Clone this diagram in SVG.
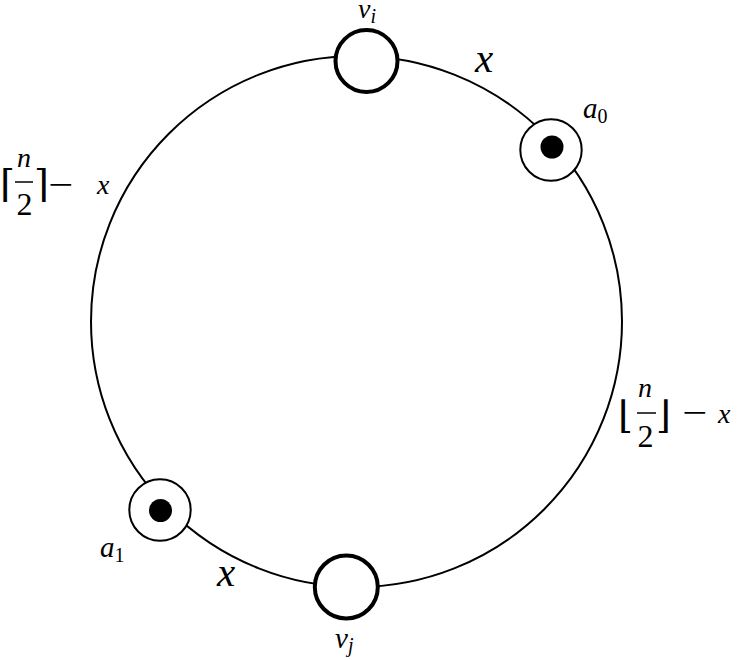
<svg xmlns="http://www.w3.org/2000/svg" width="738" height="660" viewBox="0 0 738 660">
<style>
.ring{fill:none;stroke:#000;stroke-width:2}
.vnode{fill:#fff;stroke:#000;stroke-width:4}
.anode{fill:#fff;stroke:#000;stroke-width:2}
.dot{fill:#000}
.bar{stroke:#000;stroke-width:1.5}
.m{font-family:'Liberation Serif','DejaVu Serif',serif;font-style:italic;fill:#000}
.r{font-family:'Liberation Serif','DejaVu Serif',serif;font-style:normal;fill:#000}
.br{font-family:'DejaVu Serif','DejaVu Sans',serif;font-style:normal;fill:#000}
</style>
<rect width="738" height="660" fill="#fff"/>
<g id="connectors">
<circle class="ring" cx="356.5" cy="321.5" r="265.5"/>
</g>
<g id="node-vi">
<circle class="vnode" cx="366.5" cy="61" r="31"/>
<text class="m" x="358" y="18" font-size="28">v<tspan font-size="20" dy="5">i</tspan></text>
</g>
<g id="node-a0">
<circle class="anode" cx="551" cy="150" r="30.7"/>
<circle class="dot" cx="552" cy="147" r="11.5"/>
<text class="m" x="583" y="118" font-size="29">a<tspan class="r" font-size="20" dy="5">0</tspan></text>
</g>
<g id="node-a1">
<circle class="anode" cx="160" cy="510" r="30.7"/>
<circle class="dot" cx="160.5" cy="510.5" r="11.5"/>
<text class="m" x="100" y="557" font-size="29">a<tspan class="r" font-size="20" dy="5">1</tspan></text>
</g>
<g id="node-vj">
<circle class="vnode" cx="346.3" cy="587" r="31.5"/>
<text class="m" x="335" y="648" font-size="29">v<tspan font-size="20" dy="4">j</tspan></text>
</g>
<g id="label-x-top">
<text class="m" x="475" y="72" font-size="41">x</text>
</g>
<g id="label-x-bottom">
<text class="m" x="217" y="586" font-size="41">x</text>
</g>
<g id="label-ceil">
<text class="br" x="0" y="197" font-size="38">⌈</text>
<text class="m" x="24" y="167" font-size="28" text-anchor="middle">n</text>
<line class="bar" x1="15" y1="182" x2="33" y2="182"/>
<text class="r" x="24.5" y="215" font-size="32" text-anchor="middle">2</text>
<text class="br" x="34" y="197" font-size="38">⌉</text>
<text class="r" transform="translate(48,196) scale(1.3,1)" x="0" y="0" font-size="34">−</text>
<text class="m" x="97" y="194" font-size="28">x</text>
</g>
<g id="label-floor">
<text class="br" x="618" y="428" font-size="38">⌊</text>
<text class="m" x="645" y="397" font-size="28" text-anchor="middle">n</text>
<line class="bar" x1="637" y1="413" x2="656" y2="413"/>
<text class="r" x="645.5" y="447" font-size="32" text-anchor="middle">2</text>
<text class="br" x="656" y="428" font-size="38">⌋</text>
<text class="r" transform="translate(682,424) scale(1.3,1)" x="0" y="0" font-size="34">−</text>
<text class="m" x="718" y="423" font-size="28">x</text>
</g>
</svg>
